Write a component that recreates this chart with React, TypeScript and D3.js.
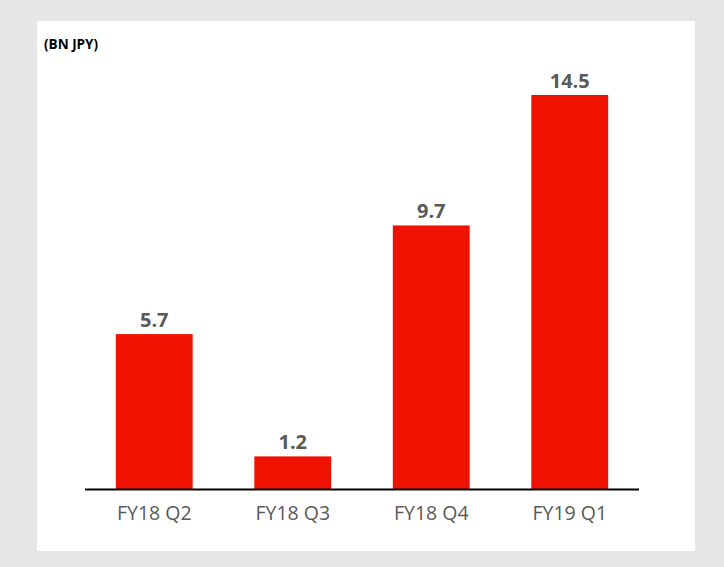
import * as d3 from 'd3';

// Quarterly values (BN JPY)
const categories = ['FY18 Q2', 'FY18 Q3', 'FY18 Q4', 'FY19 Q1'];
const values = [5.7, 1.2, 9.7, 14.5];
const valueLabels = ['5.7', '1.2', '9.7', '14.5'];
const unitLabel = '(BN JPY)';

const W = 724;
const H = 567;
const FONT = '"Open Sans", "DejaVu Sans", sans-serif';

export default function App(): JSX.Element {
  // plot area
  const x0 = 85;
  const x1 = 639;
  const baseY = 489;

  const xScale = d3.scaleBand<string>()
    .domain(categories)
    .range([x0, x1])
    .paddingInner(0.445)
    .paddingOuter(0.2225);

  const yScale = d3.scaleLinear()
    .domain([0, 14.5])
    .range([baseY, 95]);

  return (
    <svg
      width={W}
      height={H}
      style={{ position: 'absolute', left: 0, top: 0, display: 'block' }}
    >
      <rect x={0} y={0} width={W} height={H} fill="#e6e6e6" />
      <rect x={37} y={21} width={658} height={530} fill="#ffffff" />

      <text x={44} y={49} fontFamily={FONT} fontWeight={700} fontSize={13.5} fill="#000">
        {unitLabel}
      </text>

      {categories.map((c, i) => (
        <g key={c}>
          <rect
            x={xScale(c)}
            y={yScale(values[i])}
            width={xScale.bandwidth()}
            height={baseY - yScale(values[i])}
            fill="#ef1200"
          />
          <text
            x={(xScale(c) || 0) + xScale.bandwidth() / 2}
            y={yScale(values[i]) - 7.5}
            textAnchor="middle"
            fontFamily={FONT}
            fontWeight={700}
            fontSize={20}
            fill="#595959"
          >
            {valueLabels[i]}
          </text>
          <text
            x={(xScale(c) || 0) + xScale.bandwidth() / 2}
            y={519.5}
            textAnchor="middle"
            fontFamily={FONT}
            fontSize={19.5}
            fill="#595959"
          >
            {c}
          </text>
        </g>
      ))}

      <line x1={x0} x2={x1} y1={baseY + 0.5} y2={baseY + 0.5} stroke="#000" strokeWidth={2} />
    </svg>
  );
}
